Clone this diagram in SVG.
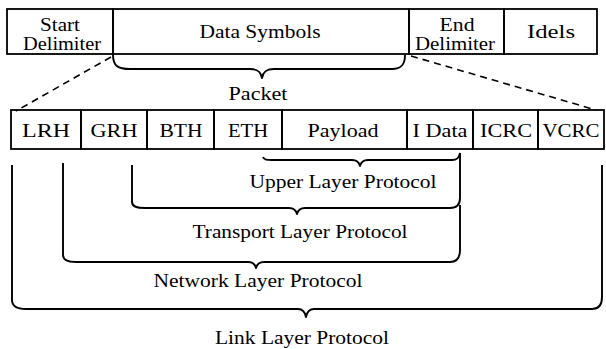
<svg xmlns="http://www.w3.org/2000/svg" width="606" height="349" viewBox="0 0 606 349">
<style>
text{font-family:"Liberation Serif","Times New Roman",serif;font-size:19px;fill:#000;text-anchor:middle}
.box{fill:none;stroke:#000;stroke-width:1.8}
.br{fill:none;stroke:#000;stroke-width:1.9;stroke-linejoin:round}
.dash{fill:none;stroke:#000;stroke-width:1.6;stroke-dasharray:7,5}
</style>
<rect width="606" height="349" fill="#fff"/>
<g id="frame">
<g id="start-delimiter"><rect class="box" x="7" y="9" width="106" height="45"/><text x="60" y="31" textLength="40" lengthAdjust="spacingAndGlyphs">Start</text><text x="62" y="50" textLength="78" lengthAdjust="spacingAndGlyphs">Delimiter</text></g>
<g id="data-symbols"><rect class="box" x="113" y="9" width="296" height="45"/><text x="260" y="38" textLength="121" lengthAdjust="spacingAndGlyphs">Data Symbols</text></g>
<g id="end-delimiter"><rect class="box" x="409" y="9" width="95" height="45"/><text x="457" y="31" textLength="35" lengthAdjust="spacingAndGlyphs">End</text><text x="455" y="50" textLength="80" lengthAdjust="spacingAndGlyphs">Delimiter</text></g>
<g id="idels"><rect class="box" x="504" y="9" width="93" height="45"/><text x="551" y="38" textLength="48" lengthAdjust="spacingAndGlyphs">Idels</text></g>
</g>
<g id="packet-fields">
<g id="lrh"><rect class="box" x="11" y="110" width="70" height="39"/><text x="46" y="137" textLength="48" lengthAdjust="spacingAndGlyphs">LRH</text></g>
<g id="grh"><rect class="box" x="81" y="110" width="66" height="39"/><text x="114" y="137" textLength="47" lengthAdjust="spacingAndGlyphs">GRH</text></g>
<g id="bth"><rect class="box" x="147" y="110" width="67" height="39"/><text x="181" y="137" textLength="43" lengthAdjust="spacingAndGlyphs">BTH</text></g>
<g id="eth"><rect class="box" x="214" y="110" width="68" height="39"/><text x="248" y="137" textLength="40" lengthAdjust="spacingAndGlyphs">ETH</text></g>
<g id="payload"><rect class="box" x="282" y="110" width="125" height="39"/><text x="343" y="137" textLength="71" lengthAdjust="spacingAndGlyphs">Payload</text></g>
<g id="idata"><rect class="box" x="407" y="110" width="66" height="39"/><text x="440" y="137" textLength="55" lengthAdjust="spacingAndGlyphs">I Data</text></g>
<g id="icrc"><rect class="box" x="473" y="110" width="65" height="39"/><text x="506" y="137" textLength="52" lengthAdjust="spacingAndGlyphs">ICRC</text></g>
<g id="vcrc"><rect class="box" x="538" y="110" width="66" height="39"/><text x="571" y="137" textLength="57" lengthAdjust="spacingAndGlyphs">VCRC</text></g>
</g>
<g id="connectors">
<path class="dash" d="M111,57 L16,111"/>
<path class="dash" d="M411,56 L596,110"/>
<path class="br" d="M113,55 C113,66 118,69 130,69 L250,69 C258,69 261,72 262,78 C263,72 266,69 274,69 L392,69 C402,69 405,64 405,55"/>
<path class="br" d="M263,157 C264,160 267,160 272,160 L352,160 C357,160 359,162 360,166 C361,162 363,160 368,160 L452,160 C457,160 459,158 460,153"/>
<path class="br" d="M132,165 L132,202 C132,207 137,208 145,208 L289,208 C294,208 296,210 297,214 C298,210 300,208 305,208 L450,208 C457,208 460,205 460,198 L460,153"/>
<path class="br" d="M63,163 L63,255 C63,260 68,262 76,262 L248,262 C253,262 255,264 256,268 C257,264 259,262 264,262 L450,262 C457,262 460,258 460,250 L460,205"/>
<path class="br" d="M12,165 L12,300 C12,306 17,309 26,309 L298,309 C303,309 305,312 306,317 C307,312 309,309 314,309 L592,309 C599,309 602,305 602,297 L602,165"/>
</g>
<g id="labels">
<text x="258" y="100" textLength="59" lengthAdjust="spacingAndGlyphs">Packet</text>
<text x="343" y="188" textLength="187" lengthAdjust="spacingAndGlyphs">Upper Layer Protocol</text>
<text x="300" y="238" textLength="215" lengthAdjust="spacingAndGlyphs">Transport Layer Protocol</text>
<text x="258" y="287" textLength="209" lengthAdjust="spacingAndGlyphs">Network Layer Protocol</text>
<text x="302" y="344" textLength="174" lengthAdjust="spacingAndGlyphs">Link Layer Protocol</text>
</g>
</svg>
